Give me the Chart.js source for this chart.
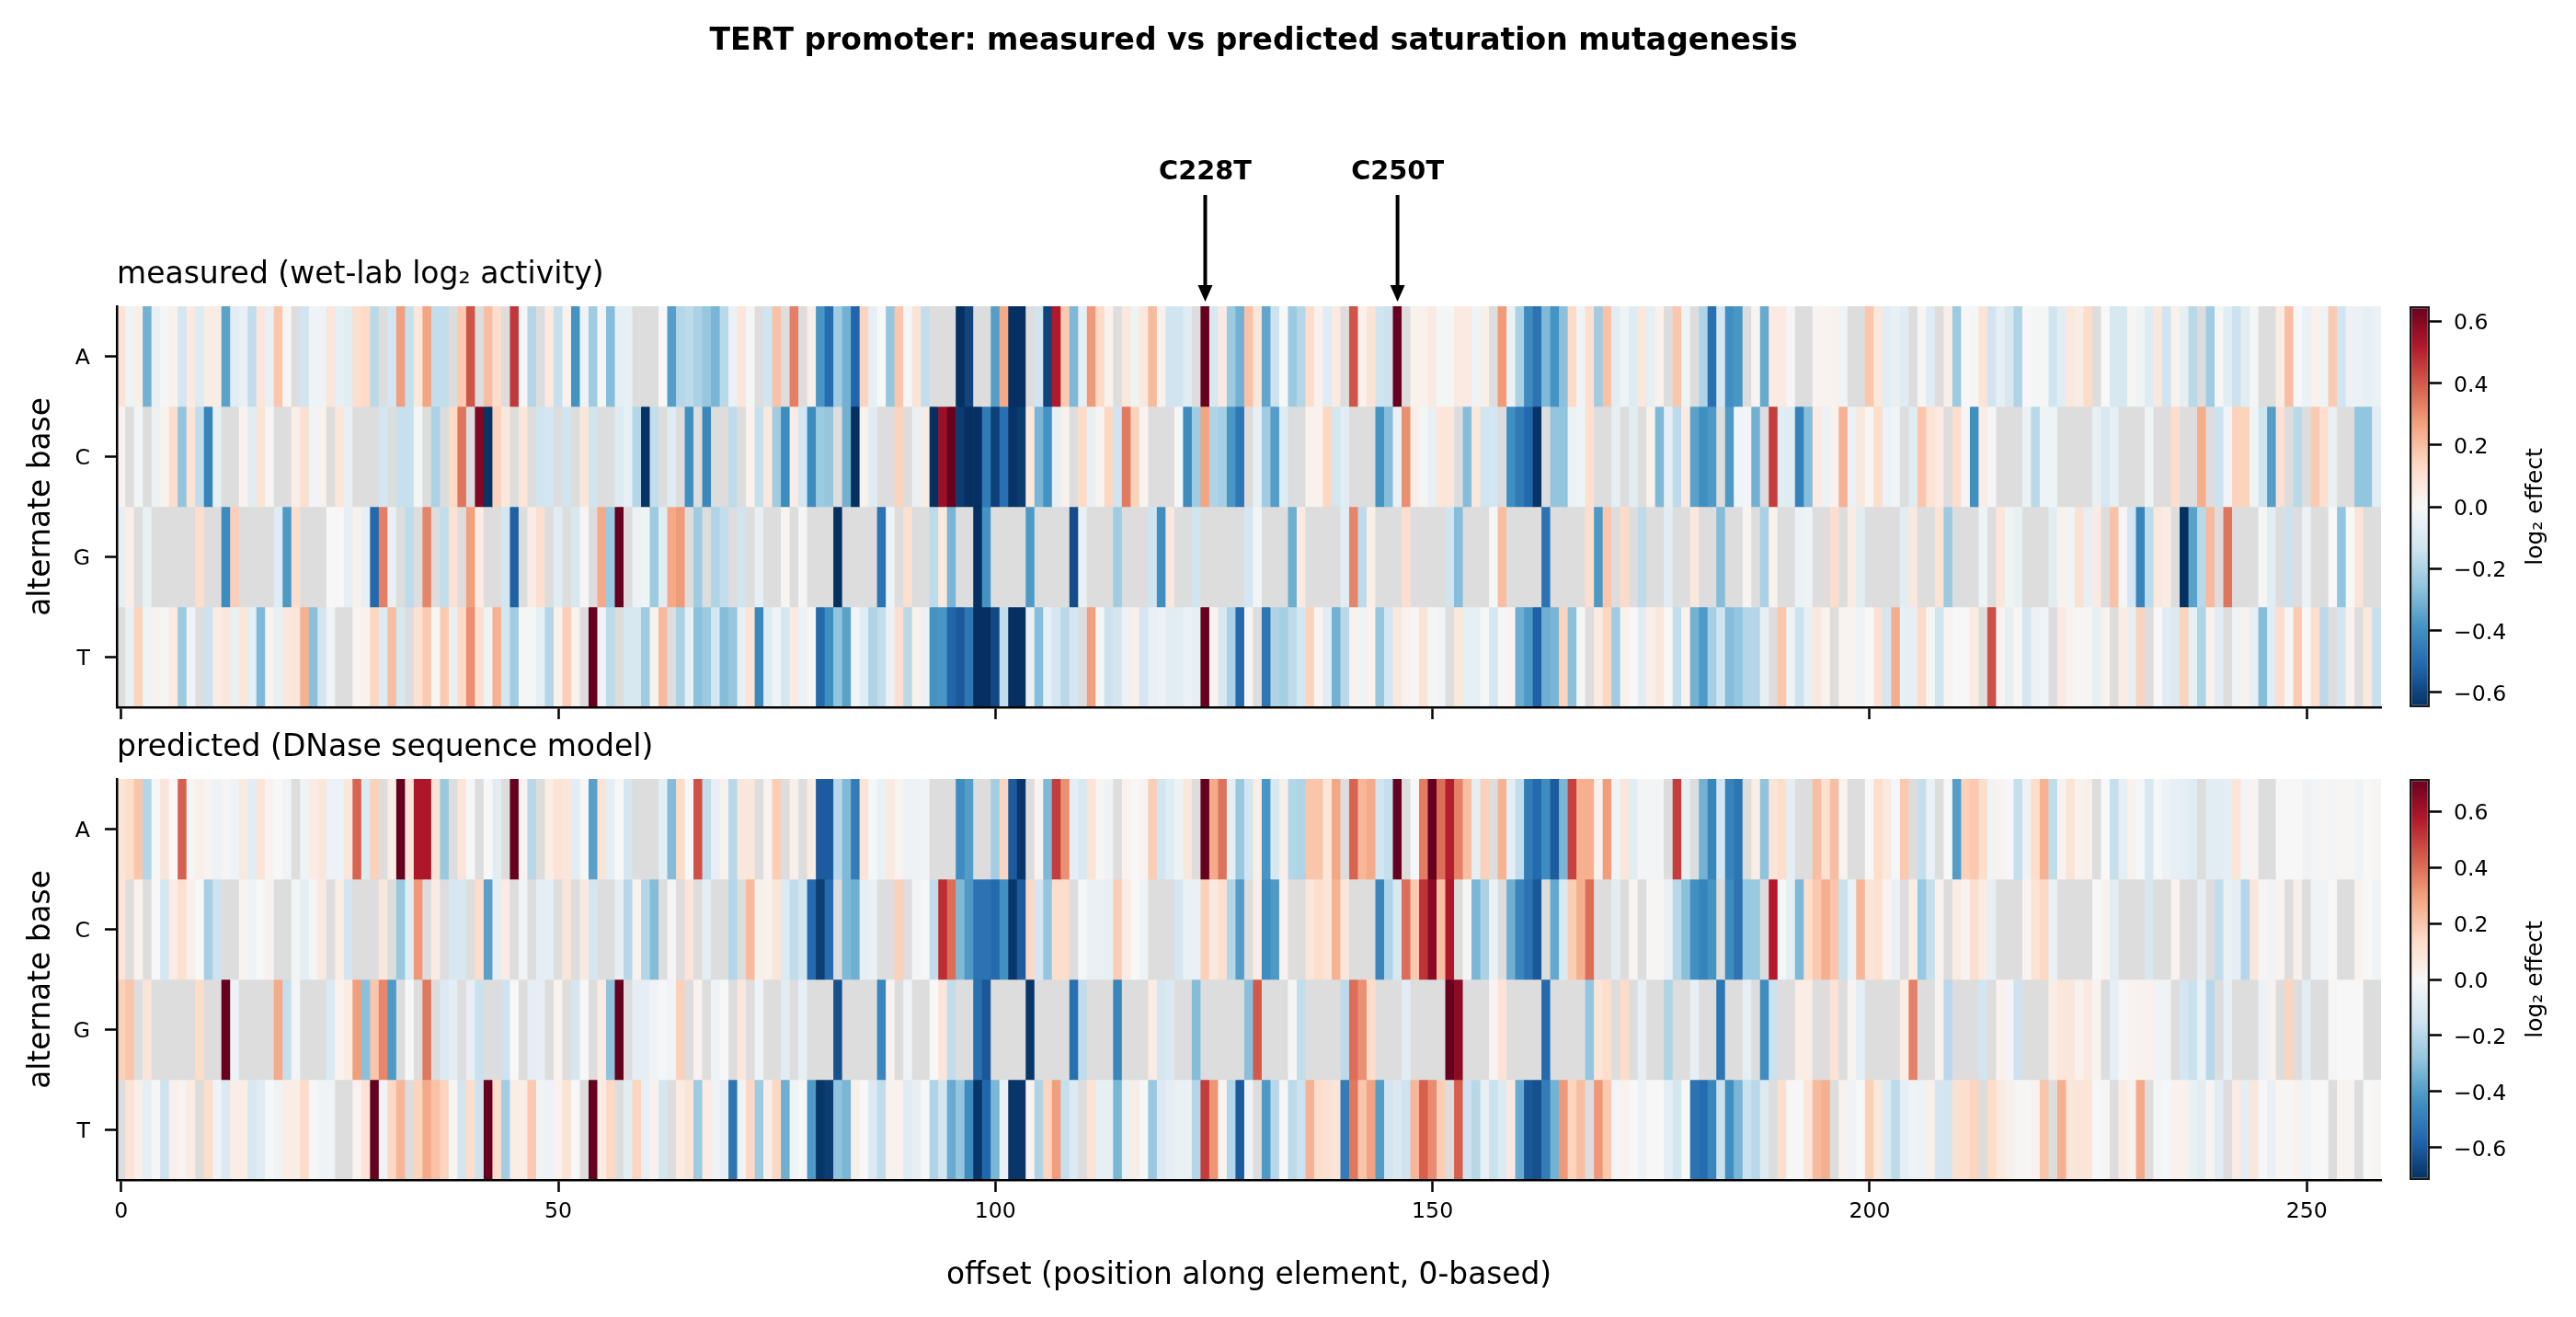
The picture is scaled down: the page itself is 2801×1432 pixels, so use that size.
<!DOCTYPE html>
<html>
<head>
<meta charset="utf-8">
<title>TERT promoter saturation mutagenesis</title>
<script src="https://cdn.jsdelivr.net/npm/chart.js@4"></script>
<style>
  html, body { margin: 0; background: #ffffff; }
  canvas { position: absolute; }
</style>
</head>
<body>
<canvas id="measuredHeat" width="2801" height="790" style="left:0;top:0"></canvas>
<canvas id="predictedHeat" width="2801" height="642" style="left:0;top:790px"></canvas>
<canvas id="measuredBar" width="201" height="470" style="left:2600px;top:320px"></canvas>
<canvas id="predictedBar" width="201" height="470" style="left:2600px;top:834px"></canvas>
<script>
/* ---------- data: log2 effect per offset, one list per alternate base ---------- */

// cell with no value (the reference base at that offset)
const _ = null;

const rowLabels = ['A', 'C', 'G', 'T'];
const xTickValues = [0, 50, 100, 150, 200, 250];
const measuredTicks = [-0.6, -0.4, -0.2, 0, 0.2, 0.4, 0.6];
const predictedTicks = [-0.6, -0.4, -0.2, 0, 0.2, 0.4, 0.6];
const measuredLimit = 0.648;
const predictedLimit = 0.715;
const hotspotOffsets = [124, 146];
const hotspotNames = ['C228T', 'C250T'];

const measuredA = [
  .09,-.03,.04,-.31,-.05,-.01,.03,-.12,.06,-.09,
  .05,.05,-.35,-.07,-.05,-.16,.08,-.05,.18,.01,
  _,-.13,-.03,-.03,.08,-.06,-.07,.11,.13,-.18,
  _,-.12,.27,-.15,.07,.26,-.16,-.16,_,.17,
  .41,_,.2,.12,_,.46,-.01,-.19,_,.06,
  -.15,.03,-.39,-.03,-.23,.01,-.28,-.06,-.06,_,
  _,_,0,-.36,-.19,-.17,-.21,-.25,-.3,-.18,
  -.04,.08,-.01,_,-.13,.19,_,.33,_,.04,
  -.38,-.5,-.23,-.31,-.52,.15,-.06,0,-.25,.18,
  -.01,.09,-.16,_,_,_,-.65,-.6,_,_,
  -.36,.25,-.65,-.65,_,-.13,-.6,.52,.17,-.29,
  -.06,.28,.13,.03,_,.07,-.03,.07,.21,.03,
  -.13,-.13,-.08,_,.65,-.11,.06,-.24,-.31,.19,
  .08,-.34,-.14,0,-.24,-.19,.12,.03,-.08,.06,
  _,.41,.03,.09,-.13,-.14,.65,_,.03,.03,
  .06,-.01,-.01,.06,.06,-.03,.04,_,.28,-.04,
  -.21,-.41,-.48,-.29,-.39,-.27,.13,-.02,.11,-.23,
  .19,-.07,-.03,-.09,.07,-.06,.03,_,.18,-.03,
  _,-.2,-.49,-.12,-.4,-.38,_,.02,-.33,.06,
  .06,.01,_,_,.02,.02,.03,-.03,_,_,
  .18,.07,-.07,-.05,-.08,_,.01,-.08,_,.04,
  -.24,0,-.01,.09,-.13,-.06,-.11,-.2,0,-.01,
  -.01,-.13,-.07,.07,.05,.13,_,0,-.11,-.11,
  .01,-.03,-.09,.07,-.13,.03,-.06,-.18,_,-.23,
  -.01,-.07,-.14,-.07,-.01,_,_,.05,.2,0,
  -.04,.03,-.03,.17,-.13,-.04,-.04,-.06,-.04
];
const measuredC = [
  .02,_,-.02,_,-.04,.03,.12,-.26,.09,-.16,
  -.43,-.06,_,_,.02,-.07,.09,.01,_,_,
  .04,.11,-.02,.03,_,.08,-.05,_,_,_,
  -.12,_,-.15,-.15,-.01,_,-.21,_,.13,.35,
  _,.6,-.64,.15,.07,_,.08,_,-.13,-.12,
  _,-.13,_,.08,-.13,_,_,-.09,-.06,-.19,
  -.64,-.16,_,-.08,_,-.4,_,-.42,_,_,
  -.17,_,.03,-.15,.07,-.23,-.41,.05,-.12,-.41,
  -.24,-.25,_,-.31,-.65,.03,-.08,_,_,.15,
  _,-.05,.05,-.65,.56,.65,-.62,-.65,-.65,-.46,
  -.61,-.49,-.64,-.62,.07,-.3,-.39,-.06,.03,_,
  .13,-.05,.02,.14,-.13,.34,.15,.02,_,_,
  _,-.01,-.41,-.23,.26,-.2,-.22,-.38,-.47,_,
  -.06,-.23,-.36,-.09,_,_,.03,.03,.14,-.12,
  -.07,_,_,_,-.39,-.28,-.05,.3,.04,-.01,
  -.05,.08,.08,_,-.28,.07,-.13,-.12,_,-.4,
  -.46,-.51,-.64,_,-.26,-.26,-.04,-.03,.11,_,
  _,-.06,_,-.07,_,.03,-.29,-.06,-.17,.06,
  -.35,-.4,-.37,_,-.37,-.02,-.02,-.31,_,.45,
  -.07,-.08,-.44,-.28,.06,-.04,.03,.23,-.04,.07,
  .01,.12,-.04,-.02,_,-.08,.18,.09,.06,_,
  .12,.01,-.4,.05,-.01,_,_,_,-.04,-.18,
  -.03,-.03,_,_,_,_,-.05,-.11,-.06,_,
  _,_,-.03,_,_,.12,_,_,.24,_,
  -.14,-.02,.15,.15,-.03,-.13,-.36,.1,_,-.18,
  _,.17,.11,-.05,_,_,-.26,-.26,-.07
];
const measuredG = [
  -.06,.04,_,-.05,_,_,_,_,_,.12,
  _,_,-.41,.16,_,_,_,_,-.08,-.37,
  .12,_,_,_,0,0,-.06,.03,-.06,-.51,
  .33,-.05,_,-.17,_,.32,_,-.16,.1,_,
  .27,.05,_,_,-.12,-.53,_,.05,.11,_,
  -.08,_,-.11,.01,_,.25,-.24,.65,_,-.04,
  -.03,-.24,-.07,.25,.28,_,-.23,_,-.2,-.16,
  _,-.13,_,-.06,_,_,.02,_,.01,_,
  _,_,-.65,_,_,_,_,-.48,-.03,_,
  .11,_,_,-.17,.07,-.3,_,_,-.65,-.39,
  _,_,_,_,-.37,_,_,_,_,-.58,
  -.05,_,_,_,-.23,_,_,_,-.13,-.4,
  .07,_,_,-.13,_,_,_,_,_,-.12,
  -.02,_,_,_,-.32,.06,_,_,_,_,
  -.07,.32,-.17,.04,_,_,_,.11,_,_,
  _,_,-.13,-.28,_,_,_,-.01,.2,_,
  _,_,_,-.48,_,_,_,_,.11,-.37,
  .18,_,.13,_,-.17,_,_,-.07,_,_,
  .07,_,_,-.28,_,_,.02,_,-.21,.03,
  _,_,-.04,-.03,_,_,.12,_,.05,-.07,
  _,_,_,_,-.07,.07,_,_,.09,-.24,
  _,_,_,-.03,_,.08,-.03,-.05,_,_,
  _,-.07,.03,-.02,.1,-.06,.06,_,.19,.01,
  -.12,-.43,-.17,.07,.05,_,-.65,-.35,-.18,.21,
  _,.35,_,_,_,-.01,-.07,_,-.14,_,
  -.04,_,_,0,-.26,0,.09,_,_
];
const measuredT = [
  _,-.05,.15,-.03,.03,-.01,.06,-.24,-.03,_,
  -.14,.05,.07,-.05,.08,-.06,-.29,.02,-.05,.07,
  .08,.23,-.27,-.12,-.03,_,_,.02,.03,.14,
  -.09,.2,-.11,_,.1,.17,-.01,.17,-.05,.13,
  .3,.11,-.03,.23,-.12,-.23,-.01,-.01,-.06,-.19,
  .03,.16,.03,_,.65,-.03,-.17,_,-.11,-.11,
  -.23,.03,.21,_,-.21,-.06,-.27,-.24,-.12,-.28,
  -.25,-.05,.09,-.42,-.09,-.03,-.12,.06,-.04,.01,
  -.51,-.4,-.26,-.35,-.02,-.08,-.2,-.16,-.04,.11,
  -.18,.03,-.04,-.39,-.38,-.52,-.55,-.47,-.65,-.65,
  -.59,-.16,-.65,-.65,-.05,-.28,-.06,-.12,-.18,-.12,
  _,.27,-.01,-.14,-.12,-.04,.04,-.12,-.05,-.04,
  -.07,-.07,-.04,-.06,.65,.02,-.11,-.21,-.51,.01,
  _,-.47,-.2,-.22,-.17,-.12,.15,.02,-.08,-.31,
  -.18,.03,-.03,.03,-.25,-.12,.07,.03,.01,.09,
  -.01,-.02,_,.07,-.06,-.06,-.01,-.12,-.01,.02,
  -.32,-.37,-.53,-.32,-.3,.15,-.27,-.01,_,.06,
  .14,-.23,.03,0,-.07,.04,.07,0,-.16,.03,
  -.31,-.37,-.22,-.13,-.28,-.26,-.19,-.19,-.05,_,
  .18,-.03,-.14,-.05,.07,.03,_,.02,.02,-.03,
  0,.1,-.12,.24,-.06,-.06,.13,-.01,-.13,.02,
  0,0,.06,_,.42,.02,-.06,.01,-.12,-.04,
  -.02,_,.06,.02,.01,.01,-.06,.03,_,.05,
  -.05,.15,_,0,-.08,-.1,.15,-.06,-.2,.03,
  -.07,_,-.03,.03,-.06,-.28,-.08,.12,-.01,.17,
  0,.11,-.18,_,-.12,.03,_,.07,-.15
];

const predictedA = [
  .09,.13,.2,-.21,-.01,.09,0,.43,.01,.04,
  .02,-.04,.01,-.03,.07,-.08,.09,.02,0,-.03,
  _,-.03,.06,.08,-.04,-.04,.08,.42,-.1,.17,
  _,.05,.715,.09,.58,.58,.1,-.27,_,.09,
  -.01,_,0,-.08,_,.715,.02,-.2,_,.05,
  .1,.08,-.08,-.01,-.39,.1,-.07,0,-.13,_,
  _,_,-.07,-.31,.14,0,.46,-.18,-.06,.03,
  -.2,.08,.08,_,.03,.18,_,.04,_,.06,
  -.6,-.6,-.2,-.32,-.5,.1,-.01,-.05,.07,.02,
  -.04,-.04,-.03,_,_,_,-.45,-.4,_,_,
  -.25,.16,-.6,-.7,_,.02,-.32,.5,.33,-.07,
  -.12,.1,.01,-.03,_,.03,0,.02,.18,-.14,
  -.09,-.04,.08,_,.715,.27,.39,-.07,-.27,-.14,
  .05,-.42,-.12,.04,-.21,-.22,.2,.2,.09,.28,
  _,.42,.24,.27,-.14,-.17,.715,_,-.01,.37,
  .715,.4,.56,.36,.22,-.07,.17,_,.25,-.07,
  -.18,-.5,-.56,-.45,-.6,-.33,.49,.26,.26,.03,
  .3,-.03,.08,-.08,-.02,-.02,-.02,_,.5,-.06,
  _,-.34,-.47,-.13,-.48,-.52,_,.05,-.29,.09,
  .13,-.07,_,_,.22,.11,.22,.03,_,_,
  0,.13,.07,-.01,.19,_,-.17,-.05,_,0,
  -.4,.17,.19,.13,-.03,.02,-.01,-.17,-.04,.13,
  .25,-.18,.02,.1,.03,.04,_,0,-.17,-.07,
  .03,-.01,-.12,-.01,-.04,-.06,-.07,-.09,_,-.08,
  -.08,-.07,.09,-.02,.02,_,_,0,0,0,
  -.03,-.02,.01,-.02,.01,.01,-.03,0,.01
];
const predictedC = [
  .09,_,.03,_,0,-.13,.06,.11,.04,0,
  -.24,-.15,_,_,.02,-.03,0,.03,_,_,
  -.02,-.07,-.02,.07,_,.05,-.14,_,_,_,
  .08,_,-.27,-.09,.31,_,.06,_,-.12,-.12,
  _,.13,-.39,-.07,.06,_,-.03,_,-.07,-.07,
  _,.09,_,.07,-.13,_,_,-.06,-.2,.03,
  -.21,-.31,_,-.02,_,.09,_,-.07,_,_,
  -.21,_,.23,.04,.03,.09,-.1,-.18,-.14,-.56,
  -.68,-.56,_,-.32,-.35,-.07,-.05,_,_,.17,
  _,-.02,-.01,-.18,.53,.4,-.32,-.41,-.53,-.53,
  -.56,-.44,-.7,-.6,.15,-.13,-.28,.13,.13,_,
  -.01,-.05,-.05,-.06,.18,.06,0,-.04,_,_,
  _,-.13,-.05,-.05,.17,.07,.12,-.21,-.4,_,
  .05,-.45,-.41,.03,_,_,.08,.13,.09,.25,
  .08,_,_,_,-.47,-.22,-.12,.4,.19,.52,
  .65,.22,.58,_,.01,-.33,-.23,-.05,_,-.35,
  -.47,-.53,-.61,_,-.37,-.11,.18,.26,.4,_,
  _,-.08,_,.02,_,.01,.01,-.05,-.2,-.3,
  -.44,-.48,-.43,_,-.45,-.53,-.27,-.27,_,.57,
  -.01,-.07,-.32,.13,.19,.26,.2,-.16,-.05,.24,
  .09,.11,.02,-.05,_,.05,-.27,-.17,.03,_,
  .06,.02,.12,.06,-.06,_,_,_,.02,.1,
  .15,-.05,_,_,_,_,-.01,.03,-.08,_,
  _,_,-.12,_,_,.03,_,_,-.07,_,
  -.18,-.05,-.07,-.21,.08,.01,-.03,.02,_,.04,
  _,-.03,-.03,0,_,_,.03,0,-.03
];
const predictedG = [
  .17,.2,_,.09,_,_,_,_,_,.14,
  _,_,.715,-.04,_,_,_,_,.27,-.17,
  -.02,_,_,_,-.11,.02,.06,.3,-.3,.2,
  .35,-.41,_,-.01,_,.38,_,-.11,-.07,_,
  -.06,-.16,_,_,-.15,0,_,-.07,-.06,_,
  .03,_,-.13,0,_,.06,-.29,.715,_,-.07,
  -.07,-.03,-.01,-.03,.17,_,.03,_,-.03,0,
  _,.08,_,-.03,_,_,-.08,_,-.06,_,
  _,_,-.63,_,_,_,_,-.47,.03,_,
  -.03,_,_,0,.09,-.18,_,_,-.54,-.61,
  _,_,_,_,-.7,_,_,_,_,-.54,
  -.18,_,_,_,-.47,_,_,_,.06,-.13,
  -.11,_,_,-.31,_,_,_,_,_,-.3,
  .44,_,_,_,.01,-.18,_,_,_,_,
  -.19,.4,.33,.13,_,_,_,-.08,_,_,
  _,_,.715,.65,_,_,_,.02,.1,_,
  _,_,_,-.56,_,_,_,_,-.28,.09,
  .13,_,.14,_,-.06,_,_,-.22,_,_,
  -.06,_,_,-.52,_,_,-.07,_,-.45,-.16,
  _,_,.05,.05,_,_,.1,_,.02,-.07,
  _,_,_,_,.05,.36,_,_,.03,-.2,
  _,_,_,-.14,_,.03,-.02,-.15,_,_,
  _,.05,.08,.08,.03,.07,.02,_,-.07,-.01,
  .02,.03,.03,-.03,-.03,_,-.13,-.16,-.05,-.2,
  _,-.06,_,_,_,-.04,.03,_,.16,_,
  -.08,_,_,.01,0,0,0,_,_
];
const predictedT = [
  _,.1,.04,-.07,.01,-.15,.04,.02,.06,_,
  .13,-.03,-.11,.05,.05,-.12,-.09,-.01,-.03,.05,
  .05,.14,-.01,-.03,-.03,_,_,.03,.1,.715,
  -.03,.15,.24,_,.16,.27,.21,.16,.01,-.14,
  .13,-.15,.715,.13,-.25,.05,.05,.19,-.03,-.04,
  .03,.1,0,_,.715,.06,.15,_,-.08,.16,
  -.06,.03,-.13,_,.06,.09,-.26,.06,-.03,-.06,
  -.52,-.03,.15,-.26,.04,.15,-.35,-.03,-.01,-.41,
  -.7,-.68,-.29,-.33,.04,0,-.11,-.18,.03,.03,
  -.09,-.06,-.01,-.22,-.13,-.36,-.28,-.45,-.7,-.57,
  -.33,-.05,-.7,-.7,.02,-.22,.16,.3,-.17,-.1,
  _,.1,-.06,-.06,-.33,-.05,.05,-.01,-.27,-.11,
  -.07,-.05,-.05,-.21,.5,.32,.02,-.21,-.6,-.03,
  _,-.41,-.2,-.01,-.19,-.15,.25,.13,.11,.09,
  -.5,.38,.2,.29,-.4,-.14,-.11,-.15,.24,.43,
  .34,.18,_,.43,-.15,-.2,-.06,-.16,-.1,.07,
  -.36,-.61,-.63,-.5,-.34,.31,.16,.22,_,.31,
  .19,-.02,.03,0,-.04,0,0,-.07,-.13,0,
  -.53,-.55,-.47,-.16,-.44,-.33,-.16,-.2,-.1,_,
  .12,-.01,-.01,.09,.23,.26,_,.03,-.03,0,
  .17,.08,-.1,-.19,-.07,-.03,-.04,.04,-.13,-.14,
  .12,.12,.16,_,.14,.07,.04,.01,.01,.03,
  .2,_,.26,.08,.09,.09,-.01,.01,_,.06,
  .03,.27,_,-.02,-.01,.03,.03,-.05,-.08,.02,
  -.08,_,.06,-.07,.08,-.01,-.05,.01,.01,.03,
  -.03,0,0,_,.02,.02,_,0,.01
];

const measuredRows = [measuredA, measuredC, measuredG, measuredT];
const predictedRows = [predictedA, predictedC, predictedG, predictedT];

/* ---------- colours ---------- */

const missingColor = '#dddddd';
const inkColor = '#000000';
const fontFamily = '"DejaVu Sans", sans-serif';
const tickFontSize = 23.6;
const labelFontSize = 32.8;

// diverging red/blue ramp, low to high
const rampStops = [
  [5, 48, 97], [33, 102, 172], [67, 147, 195], [146, 197, 222], [209, 229, 240],
  [247, 247, 247], [253, 219, 199], [244, 165, 130], [214, 96, 77], [178, 24, 43], [103, 0, 31]
];

function rampRgb(stop) {
  return `rgb(${stop[0]}, ${stop[1]}, ${stop[2]})`;
}

/**
 * Map a log2 effect to a cell colour
 */
function effectColor(value, limit) {
  if (value === null) {
    return missingColor;
  }
  const t = Math.min(1, Math.max(0, (value + limit) / (2 * limit))) * (rampStops.length - 1);
  const low = Math.min(Math.floor(t), rampStops.length - 2);
  const mix = t - low;
  const a = rampStops[low];
  const b = rampStops[low + 1];
  return rampRgb([0, 1, 2].map(k => Math.round(a[k] + (b[k] - a[k]) * mix)));
}

/* ---------- heatmap panels ---------- */

// Main heading and the two labelled arrows above the measured panel
const figureHeading = {
  id: 'figureHeading',
  afterDraw(chart) {
    const { ctx, scales } = chart;
    ctx.save();
    ctx.fillStyle = inkColor;
    ctx.strokeStyle = inkColor;
    ctx.textAlign = 'center';
    ctx.textBaseline = 'middle';

    ctx.font = `bold 33px ${fontFamily}`;
    ctx.fillText('TERT promoter: measured vs predicted saturation mutagenesis', 1363, 45);

    ctx.font = `bold 28.8px ${fontFamily}`;
    hotspotOffsets.forEach((offset, i) => {
      const x = scales.x.getPixelForValue(offset);
      ctx.fillText(hotspotNames[i], x, 188);
      ctx.lineWidth = 4;
      ctx.beginPath();
      ctx.moveTo(x, 212);
      ctx.lineTo(x, 314);
      ctx.stroke();
      ctx.beginPath();
      ctx.moveTo(x, 328);
      ctx.lineTo(x - 8, 310);
      ctx.lineTo(x + 8, 310);
      ctx.closePath();
      ctx.fill();
    });
    ctx.restore();
  }
};

/**
 * Draw one panel of the heatmap: a floating bar per cell, one dataset per base
 */
function renderHeatmap(canvasId, rows, limit, panelTitle, opts) {
  const offsets = rows[0].map((value, i) => i);

  const datasets = rows.map((values, r) => ({
    label: rowLabels[r],
    data: values.map(() => [r - 0.5, r + 0.5]),
    backgroundColor: values.map(v => effectColor(v, limit)),
    borderWidth: 0,
    barPercentage: 1,
    categoryPercentage: 1,
    grouped: false,
  }));

  return new Chart(document.getElementById(canvasId), {
    type: 'bar',
    data: { labels: offsets, datasets: datasets },
    plugins: opts.plugins || [],
    options: {
      responsive: false,
      animation: false,
      devicePixelRatio: 1,
      events: [],
      layout: { padding: { left: 0, right: 212, top: opts.paddingTop, bottom: 0 } },
      plugins: {
        legend: { display: false },
        tooltip: { enabled: false },
        title: {
          display: true,
          text: panelTitle,
          align: 'start',
          fullSize: false,
          color: inkColor,
          font: { family: fontFamily, size: 33, weight: 'normal', lineHeight: 1 },
          padding: { top: 0, bottom: 17.5 },
        },
      },
      scales: {
        x: {
          type: 'category',
          offset: true,
          afterBuildTicks: scale => {
            scale.ticks = xTickValues.map(value => ({ value }));
          },
          afterFit: scale => {
            scale.height = opts.xHeight;
            scale.paddingLeft = 0;
            scale.paddingRight = 0;
          },
          grid: { offset: false, drawOnChartArea: false, tickLength: 13, tickWidth: 2.5, tickColor: inkColor },
          border: { color: inkColor, width: 2.5, z: 1 },
          ticks: {
            display: opts.showXLabels,
            autoSkip: false,
            maxRotation: 0,
            minRotation: 0,
            padding: 8,
            color: inkColor,
            font: { family: fontFamily, size: tickFontSize },
          },
          title: {
            display: opts.showXLabels,
            text: 'offset (position along element, 0-based)',
            color: inkColor,
            font: { family: fontFamily, size: labelFontSize },
            padding: { top: 0, bottom: 25 },
          },
        },
        y: {
          type: 'linear',
          reverse: true,
          min: -0.5,
          max: 3.5,
          afterBuildTicks: scale => {
            scale.ticks = rowLabels.map((label, i) => ({ value: i }));
          },
          // row labels sit mid-row, so they need no overhang at the axis ends
          afterFit: scale => {
            scale.width = 127;
            scale.paddingTop = 0;
            scale.paddingBottom = 0;
          },
          grid: { drawOnChartArea: false, tickLength: 13, tickWidth: 2.5, tickColor: inkColor },
          border: { color: inkColor, width: 2.5, z: 1 },
          ticks: {
            padding: 16,
            labelOffset: 2,
            color: inkColor,
            font: { family: fontFamily, size: tickFontSize },
            callback: value => rowLabels[value],
          },
          title: {
            display: true,
            text: 'alternate base',
            color: inkColor,
            font: { family: fontFamily, size: labelFontSize },
            padding: { top: 26, bottom: 0 },
          },
        },
      },
    },
  });
}

/* ---------- colour bars ---------- */

// Axis label reads bottom to top, which the scale title can't do on a right-hand axis
const barLabel = {
  id: 'barLabel',
  afterDraw(chart) {
    const { ctx, chartArea } = chart;
    ctx.save();
    ctx.translate(157, (chartArea.top + chartArea.bottom) / 2);
    ctx.rotate(-Math.PI / 2);
    ctx.fillStyle = inkColor;
    ctx.font = `25px ${fontFamily}`;
    ctx.textAlign = 'center';
    ctx.textBaseline = 'middle';
    ctx.fillText('log₂ effect', 0, 0);
    ctx.restore();
  }
};

function barGradient(context) {
  const { ctx, chartArea } = context.chart;
  if (!chartArea) {
    return missingColor;
  }
  const gradient = ctx.createLinearGradient(0, chartArea.bottom, 0, chartArea.top);
  rampStops.forEach((stop, i) => gradient.addColorStop(i / (rampStops.length - 1), rampRgb(stop)));
  return gradient;
}

/**
 * Draw a colour bar as a single bar spanning the value range
 */
function renderColorBar(canvasId, limit, tickValues) {
  return new Chart(document.getElementById(canvasId), {
    type: 'bar',
    data: {
      labels: [''],
      datasets: [{
        data: [[-limit, limit]],
        backgroundColor: barGradient,
        borderColor: '#1a1a1a',
        borderWidth: 2.5,
        borderSkipped: false,
        inflateAmount: 0,
        barPercentage: 1,
        categoryPercentage: 1,
      }],
    },
    plugins: [barLabel],
    options: {
      responsive: false,
      animation: false,
      devicePixelRatio: 1,
      events: [],
      layout: { padding: { left: 20, right: 0, top: 13, bottom: 21 } },
      plugins: { legend: { display: false }, tooltip: { enabled: false } },
      scales: {
        x: { display: false },
        y: {
          position: 'right',
          min: -limit,
          max: limit,
          afterBuildTicks: scale => {
            scale.ticks = tickValues.map(value => ({ value }));
          },
          // ticks stop short of the ends, so no room is needed for label overhang
          afterFit: scale => {
            scale.width = 159;
            scale.paddingTop = 0;
            scale.paddingBottom = 0;
          },
          grid: { drawOnChartArea: false, tickLength: 13, tickWidth: 2.5, tickColor: inkColor },
          border: { display: false },
          ticks: {
            padding: 13,
            labelOffset: 3,
            color: inkColor,
            font: { family: fontFamily, size: tickFontSize },
            callback: value => value.toFixed(1).replace('-', '\u2212'),
          },
        },
      },
    },
  });
}

/* ---------- build the figure ---------- */

[...measuredRows, ...predictedRows].forEach((row, i) => {
  if (row.length !== 259) {
    throw new Error(`row ${i} has ${row.length} cells`);
  }
});

renderHeatmap('measuredHeat', measuredRows, measuredLimit, 'measured (wet-lab log₂ activity)', {
  paddingTop: 282.5, xHeight: 21, showXLabels: false, plugins: [figureHeading],
});
renderHeatmap('predictedHeat', predictedRows, predictedLimit, 'predicted (DNase sequence model)', {
  paddingTop: 6.5, xHeight: 149, showXLabels: true,
});
renderColorBar('measuredBar', measuredLimit, measuredTicks);
renderColorBar('predictedBar', predictedLimit, predictedTicks);
</script>
</body>
</html>
